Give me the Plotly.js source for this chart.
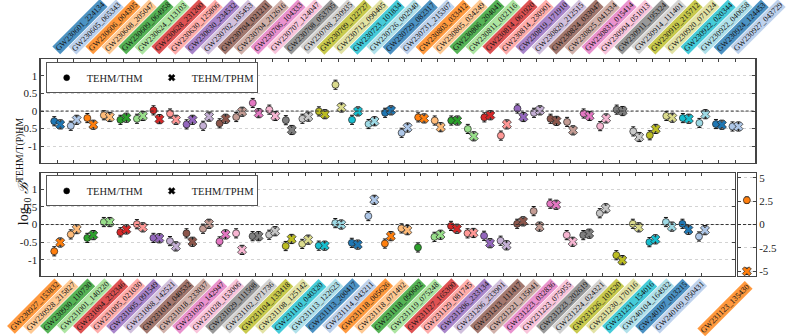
<!DOCTYPE html>
<html>
<head>
<meta charset="utf-8">
<script src="https://cdn.plot.ly/plotly-3.0.1.min.js"></script>
<style>
  html, body { margin: 0; padding: 0; background: #fff; }
  #myPlot { width: 793px; height: 336px; }
</style>
</head>
<body>
<div id="myPlot"></div>
<script>
// events of the first half (top panel)
var topEvents = ["GW230601_224134","GW230605_065343","GW230606_004305","GW230608_205047","GW230609_064958",
  "GW230624_113103","GW230628_231200","GW230630_125806","GW230630_234532","GW230702_185453",
  "GW230704_021211","GW230704_212616","GW230706_104333","GW230707_124047","GW230708_053705",
  "GW230708_230935","GW230709_122727","GW230712_090405","GW230723_101834","GW230726_002940",
  "GW230729_082317","GW230731_215307","GW230803_033412","GW230805_034249","GW230806_204041",
  "GW230811_032116","GW230814_061920","GW230814_230901","GW230819_171910","GW230820_212515",
  "GW230824_033047","GW230825_041334","GW230831_015414","GW230904_051013","GW230911_195324",
  "GW230914_111401","GW230919_215712","GW230920_071124","GW230922_020344","GW230922_040658",
  "GW230924_124453","GW230927_043729"];
var topThm = [-0.29,-0.42,-0.20,-0.12,-0.25,-0.22,0.02,-0.07,-0.38,-0.42,
  -0.35,-0.17,0.23,0.04,-0.26,-0.22,-0.01,0.75,-0.25,-0.37,
  -0.05,-0.62,-0.18,-0.27,-0.27,-0.51,-0.18,-0.70,0.07,-0.05,
  -0.22,-0.31,-0.07,-0.43,0.04,-0.58,-0.69,-0.14,-0.20,-0.34,
  -0.37,-0.44];
var topTphm = [-0.38,-0.25,-0.39,-0.17,-0.19,-0.14,-0.23,-0.25,-0.25,-0.16,
  -0.22,-0.02,-0.06,-0.14,-0.54,-0.16,-0.09,0.10,-0.01,-0.29,
  0.02,-0.47,-0.21,-0.46,-0.27,-0.72,-0.12,-0.38,-0.17,0.02,
  -0.28,-0.55,-0.14,-0.21,0.00,-0.74,-0.51,-0.19,-0.22,-0.09,
  -0.39,-0.44];

// second half (bottom panel)
var botEvents = ["GW230927_153832","GW230928_215827","GW230930_110730","GW231001_140220","GW231004_232346",
  "GW231005_021030","GW231005_091549","GW231008_142521","GW231014_040532","GW231018_233037",
  "GW231020_142947","GW231028_153006","GW231029_111508","GW231102_071736","GW231104_133418",
  "GW231108_125142","GW231110_040320","GW231113_122623","GW231113_200417","GW231114_043211",
  "GW231118_005626","GW231118_071402","GW231118_090602","GW231119_075248","GW231127_165300",
  "GW231129_081745","GW231206_233134","GW231206_233901","GW231213_111417","GW231221_135041",
  "GW231223_032836","GW231223_075055","GW231223_202619","GW231224_024321","GW231226_101520",
  "GW231230_170116","GW231231_154016","GW240104_164932","GW240107_013215","GW240109_050431"];
var botThm = [-0.76,-0.28,-0.38,0.07,-0.22,0.01,-0.38,-0.47,-0.25,-0.12,
  -0.48,-0.25,-0.33,-0.29,-0.61,-0.55,-0.60,0.04,-0.52,0.24,
  -0.54,-0.11,-0.65,-0.35,-0.04,-0.25,-0.32,-0.46,0.02,0.38,
  0.59,-0.30,-0.30,0.32,-0.87,0.02,-0.50,0.07,0.02,-0.34];
var botTphm = [-0.51,-0.13,-0.30,0.07,-0.14,-0.08,-0.39,-0.62,-0.49,0.02,
  -0.28,-0.72,-0.33,-0.19,-0.41,-0.43,-0.60,0.00,-0.57,0.70,
  -0.33,-0.16,null,-0.29,-0.12,-0.24,-0.53,-0.59,0.09,-0.06,
  0.56,-0.49,-0.26,0.46,-1.01,-0.08,-0.42,-0.06,-0.15,-0.16];

// the outlier in its own little panel
var outEvents = ["GW231123_135430"];
var outThm = [2.6];
var outTphm = [-5.0];

var tab20 = ["#1f77b4","#aec7e8","#ff7f0e","#ffbb78","#2ca02c","#98df8a","#d62728","#ff9896",
  "#9467bd","#c5b0d5","#8c564b","#c49c94","#e377c2","#f7b6d2","#7f7f7f","#c7c7c7",
  "#bcbd22","#dbdb8d","#17becf","#9edae5"];

function cycleColors(names, start) {
  return names.map(function(n, i) { return tab20[(start + i) % 20]; });
}
function fade(hex, a) {
  var r = parseInt(hex.substr(1,2),16), g = parseInt(hex.substr(3,2),16), b = parseInt(hex.substr(5,2),16);
  return "rgba(" + r + "," + g + "," + b + "," + a + ")";
}

var topCols = cycleColors(topEvents, 0);
var botCols = cycleColors(botEvents, topEvents.length);
var outCols = ["#ff7f0e"];

function pts(xs, ys, xa, ya, sym, cols, grp, err) {
  return {
    type: "scatter", mode: "markers", x: xs, y: ys, xaxis: xa, yaxis: ya,
    showlegend: false, offsetgroup: grp, hoverinfo: "skip",
    marker: {symbol: sym, size: sym == "circle" ? 7 : 8, color: cols, line: {color: "#222", width: 0.7}},
    error_y: {type: "constant", value: err, color: "#111", thickness: 1, width: 2}
  };
}

var data = [
  pts(topEvents, topThm, "x", "y", "circle", topCols, "thm", 0.13),
  pts(topEvents, topTphm, "x", "y", "x", topCols, "tphm", 0.13),
  pts(botEvents, botThm, "x2", "y2", "circle", botCols, "thm", 0.13),
  pts(botEvents, botTphm, "x2", "y2", "x", botCols, "tphm", 0.13),
  pts(outEvents, outThm, "x3", "y3", "circle", outCols, "out", 0.35),
  pts(outEvents, outTphm, "x3", "y3", "x", outCols, "out", 0.35)
];

// black legend entries, one legend per panel
var legs = [["legend", "circle", "TEHM/THM"], ["legend", "x", "TEHM/TPHM"],
            ["legend2", "circle", "TEHM/THM"], ["legend2", "x", "TEHM/TPHM"]];
legs.forEach(function(l) {
  data.push({type: "scatter", mode: "markers", x: [null], y: [null], xaxis: "x4", yaxis: "y4",
    name: l[2], legend: l[0], showlegend: true,
    marker: {symbol: l[1], size: 6, color: "#000", line: {color: "#000", width: 0.5}}});
});

var ann = [];
topEvents.forEach(function(n, i) {
  ann.push({xref: "x", yref: "paper", x: i, y: 0.836, text: n, textangle: -45,
    xanchor: "left", yanchor: "bottom", xshift: -6, showarrow: false,
    bgcolor: fade(topCols[i], 0.8), borderpad: 0.5, font: {size: 8, color: "#111"}});
});
botEvents.forEach(function(n, i) {
  ann.push({xref: "x2", yref: "paper", x: i, y: 0.172, text: n, textangle: -45,
    xanchor: "right", yanchor: "top", xshift: 6, showarrow: false,
    bgcolor: fade(botCols[i], 0.8), borderpad: 0.5, font: {size: 8, color: "#111"}});
});
ann.push({xref: "x3", yref: "paper", x: 0, y: 0.165, text: outEvents[0], textangle: -45,
  xanchor: "right", yanchor: "top", xshift: 6, showarrow: false,
  bgcolor: fade(outCols[0], 0.8), borderpad: 0.5, font: {size: 8, color: "#111"}});
ann.push({xref: "paper", yref: "paper", x: 0.015, y: 0.49, showarrow: false, textangle: -90,
  text: "log<sub>10</sub> <i>ℬ</i><sup>TEHM/T(P)HM</sup>", font: {size: 14, color: "#111"}});

function xax(dom, anc, names, rng) {
  return {domain: dom, anchor: anc, type: "category", categoryorder: "array", categoryarray: names,
    range: rng, tickmode: "linear", tick0: 0, dtick: 1, ticks: "inside", ticklen: 3,
    tickcolor: "#444", showticklabels: false, showline: true, mirror: "ticks",
    linecolor: "#444", linewidth: 1.2, showgrid: false, zeroline: false};
}
function yax(dom, anc, rng, vals, side) {
  return {domain: dom, anchor: anc, range: rng, side: side, tickvals: vals,
    ticktext: vals.map(function(v) { return String(v); }),
    ticks: "inside", ticklen: 3, tickcolor: "#444", showline: true, mirror: "ticks",
    linecolor: "#444", linewidth: 1.2, showgrid: true, gridcolor: "#c8c8c8",
    griddash: "dot", gridwidth: 0.8, zeroline: false};
}

function zeroLine(xr, yr) {
  return {type: "line", xref: xr, x0: 0, x1: 1, yref: yr, y0: 0, y1: 0,
    line: {color: "#333", width: 1, dash: "3px,2px"}};
}

var legendStyle = {xanchor: "left", yanchor: "top", orientation: "h",
  bordercolor: "#555", borderwidth: 1, bgcolor: "#fff", font: {size: 10.5},
  entrywidth: 60, itemwidth: 30};

var layout = {
  width: 793, height: 336, margin: {l: 0, r: 0, t: 0, b: 0},
  paper_bgcolor: "#fff", plot_bgcolor: "#fff",
  font: {family: "Liberation Serif, serif", size: 11, color: "#222"},
  scattermode: "group", scattergap: 0.28,
  xaxis: xax([0.0513, 0.9525], "y", topEvents, [-1, 42.2]),
  yaxis: yax([0.516, 0.823], "x", [-1.47, 1.47], [-1, -0.5, 0, 0.5, 1], "left"),
  xaxis2: xax([0.0513, 0.9269], "y2", botEvents, [-1, 41]),
  yaxis2: yax([0.1786, 0.485], "x2", [-1.46, 1.46], [-1, -0.5, 0, 0.5, 1], "left"),
  xaxis3: xax([0.9306, 0.953], "y3", outEvents, [-0.5, 0.5]),
  yaxis3: yax([0.1786, 0.485], "x3", [-5.5, 5.5], [-5, -2.5, 0, 2.5, 5], "right"),
  xaxis4: {domain: [0, 0.01], anchor: "y4", visible: false},
  yaxis4: {domain: [0, 0.01], anchor: "x4", visible: false},
  legend: Object.assign({x: 0.0576, y: 0.815}, legendStyle),
  legend2: Object.assign({x: 0.0576, y: 0.478}, legendStyle),
  shapes: [zeroLine("x domain", "y"), zeroLine("x2 domain", "y2"), zeroLine("x3 domain", "y3")],
  annotations: ann
};
layout.xaxis3.ticks = "";

Plotly.newPlot("myPlot", data, layout, {staticPlot: true});
</script>
</body>
</html>
